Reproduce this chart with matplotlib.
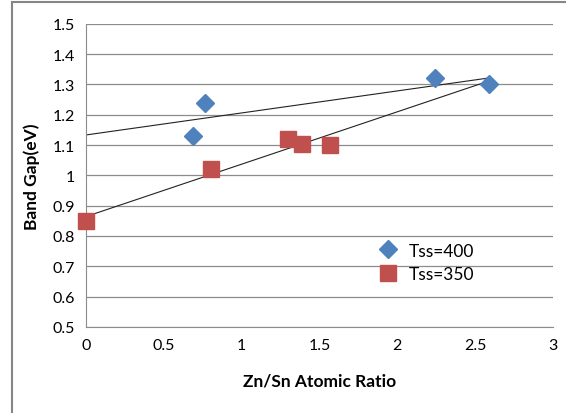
import numpy as np
import matplotlib
matplotlib.use("Agg")
import matplotlib.pyplot as plt
from matplotlib.patches import Rectangle

plt.rcParams['font.family'] = ['Lato', 'DejaVu Sans']

# Tss=400 series
x400 = [0.69, 0.765, 2.24, 2.59]
y400 = [1.13, 1.24, 1.32, 1.30]
# Tss=350 series
x350 = [0.0, 0.80, 1.30, 1.39, 1.57]
y350 = [0.85, 1.02, 1.12, 1.105, 1.10]

blue = '#4F81BD'
red = '#C0504D'

fig = plt.figure(figsize=(5.66, 4.14), dpi=100)
ax = fig.add_axes([0.152, 0.208, 0.825, 0.732])

# outer chart frame (partially cropped in the original)
fig.add_artist(Rectangle((12 / 566, -0.1), 1.2, 1.1 - 3 / 414, transform=fig.transFigure,
                         fill=False, edgecolor='#868686', linewidth=1.5))

ax.set_xlim(0, 3)
ax.set_ylim(0.5, 1.5)
ax.set_xticks(np.arange(0, 3.01, 0.5))
ax.set_xticklabels(['0', '0.5', '1', '1.5', '2', '2.5', '3'])
ax.set_yticks(np.arange(0.5, 1.501, 0.1))
ax.set_yticklabels(['0.5', '0.6', '0.7', '0.8', '0.9', '1', '1.1', '1.2', '1.3', '1.4', '1.5'])
ax.grid(axis='y', color='#8c8c8c', linewidth=0.9)
ax.set_axisbelow(True)
for s in ['top', 'right']:
    ax.spines[s].set_visible(False)
for s in ['left', 'bottom']:
    ax.spines[s].set_color('#8c8c8c')
ax.tick_params(length=0, labelsize=11.5, pad=8)

# linear trendlines over 0..2.6
xt = np.array([0, 2.6])
for xs, ys in [(x400, y400), (x350, y350)]:
    k, b = np.polyfit(xs, ys, 1)
    ax.plot(xt, k * xt + b, color='#222222', linewidth=0.8, zorder=2)

ax.plot(x400, y400, 'D', color=blue, ms=9.5, label='Tss=400', clip_on=False, zorder=3)
ax.plot(x350, y350, 's', color=red, ms=11, label='Tss=350', clip_on=False, zorder=3)

ax.set_xlabel('Zn/Sn Atomic Ratio', fontsize=12.5, fontweight='bold', labelpad=15)
ax.set_ylabel('Band Gap(eV)', fontsize=12.5, fontweight='bold', labelpad=9)

ax.legend(loc='upper left', bbox_to_anchor=(0.59, 0.33), frameon=False, fontsize=12.5,
          handletextpad=0.6, labelspacing=0.45, handlelength=1.2)

fig.savefig('out.png', dpi=100)
